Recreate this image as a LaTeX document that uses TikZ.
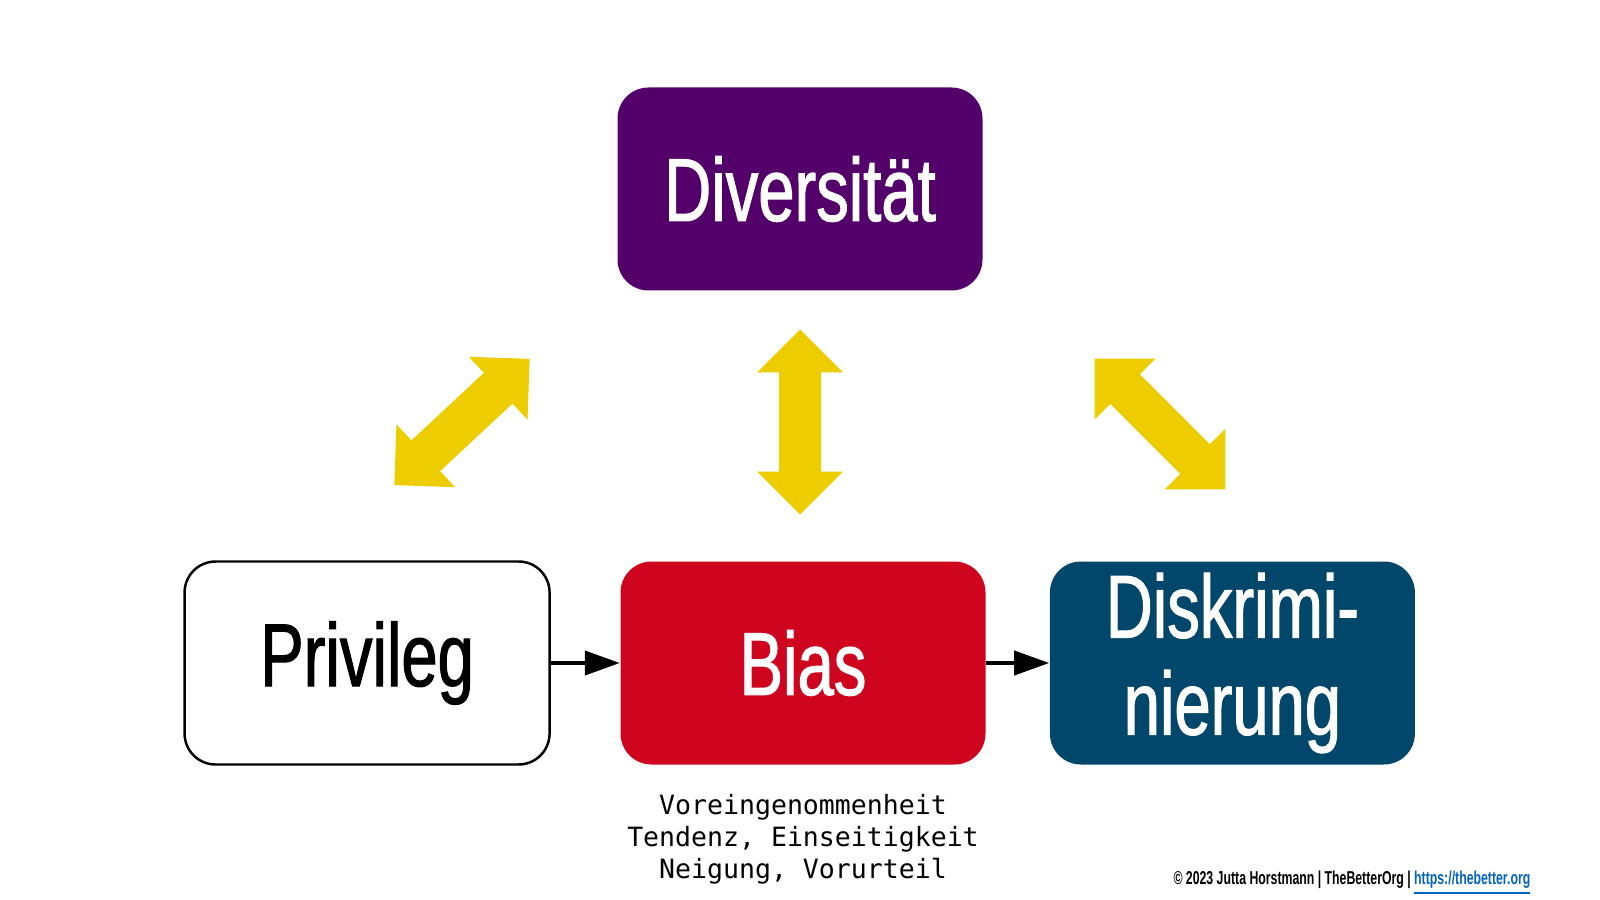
\documentclass[tikz,border=0pt]{standalone}
\usepackage{fontspec}
\newfontfamily\headfont[FakeStretch=0.73, FakeBold=1.2]{Liberation Sans}
\newfontfamily\footfont[FakeStretch=0.66]{Liberation Sans Bold}
\newfontfamily\notefont{DejaVu Sans Mono}
\usepackage{tikz}
\usetikzlibrary{arrows.meta,positioning}
\definecolor{divpurple}{HTML}{54006A}
\definecolor{biasred}{HTML}{CF0520}
\definecolor{diskblue}{HTML}{00476B}
\definecolor{arrowyellow}{HTML}{EECD00}
\definecolor{linkblue}{HTML}{0563C1}

\begin{document}
\begin{tikzpicture}[
    x=0.1mm, y=-0.1mm,
    box/.style={rounded corners=3.1mm, minimum width=36.5mm, minimum height=20.3mm, align=center, inner sep=0pt,
                font=\headfont\fontsize{25.4}{27.6}\selectfont},
    conn/.style={-{Triangle[length=3.5mm, width=2.4mm]}, line width=1.15pt},
    dblarrow/.pic={
        \fill[arrowyellow] (-92.5,0) -- (-49.5,-43) -- (-49.5,-21) -- (49.5,-21) -- (49.5,-43)
            -- (92.5,0) -- (49.5,43) -- (49.5,21) -- (-49.5,21) -- (-49.5,43) -- cycle;
    }
]
\useasboundingbox (0,0) rectangle (1600,900);

\node[box, fill=divpurple, text=white] (div) at (800,189) {Diversität};
\node[box, fill=biasred, text=white] (bias) at (803,663) {Bias};
\node[box, draw=black, line width=0.7pt, fill=white, left=6.9mm of bias] (priv) {Privileg};
\node[box, fill=diskblue, text=white, right=6.3mm of bias] (disk) {Diskrimi-\\nierung};

\draw[conn] (priv.east) -- (bias.west);
\draw[conn] (bias.east) -- (disk.west);

% yellow double arrows
\pic[rotate=43] (pa) at (462,422) {dblarrow};
\pic[rotate=90] (pb) at (800,422) {dblarrow};
\pic[rotate=-45] (pc) at (1160,424) {dblarrow};

\node[font=\notefont\fontsize{7.55}{9.1}\selectfont, align=center, below=1.7mm of bias] (note)
    {Voreingenommenheit\\Tendenz, Einseitigkeit\\Neigung, Vorurteil};

\node[anchor=base east, inner sep=0pt, font=\footfont\fontsize{5.3}{6}\selectfont] (foot) at (1531,884)
    {© 2023 Jutta Horstmann | TheBetterOrg | {\color{linkblue}\underline{https://thebetter.org}}};
\end{tikzpicture}
\end{document}
